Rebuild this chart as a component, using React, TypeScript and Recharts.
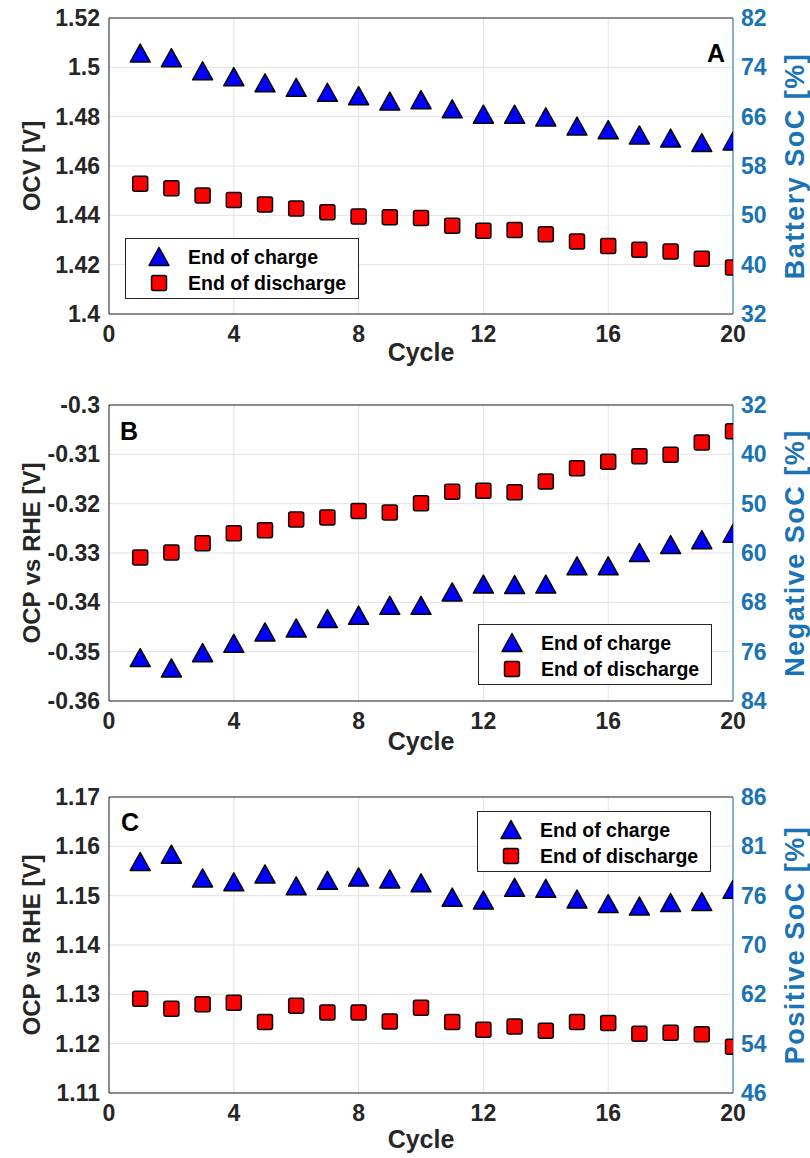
import React from 'react';
import {
  ScatterChart,
  Scatter,
  XAxis,
  YAxis,
  CartesianGrid,
  ReferenceLine,
  Legend
} from 'recharts';

// cycle numbers shared by all three panels
const cycles = [1, 2, 3, 4, 5, 6, 7, 8, 9, 10, 11, 12, 13, 14, 15, 16, 17, 18, 19, 20];
const cycleTicks = [0, 4, 8, 12, 16, 20];

// A: battery open-circuit voltage
const ocvCharge = [1.5056, 1.5037, 1.4984, 1.496, 1.4935, 1.4917, 1.4897, 1.4883, 1.4861, 1.4867,
  1.483, 1.4808, 1.4808, 1.4797, 1.476, 1.4745, 1.4724, 1.4711, 1.4693, 1.4699];
const ocvDischarge = [1.4528, 1.451, 1.448, 1.4462, 1.4444, 1.4428, 1.4412, 1.4395, 1.4392, 1.4389,
  1.4358, 1.4337, 1.4341, 1.4323, 1.4294, 1.4276, 1.426, 1.4253, 1.4224, 1.4189];
const ocvTicks = [1.4, 1.42, 1.44, 1.46, 1.48, 1.5, 1.52];
const batterySocLabels = ['32', '40', '50', '58', '66', '74', '82'];

// B: negative electrode potential
const negCharge = [-0.3513, -0.3534, -0.3503, -0.3484, -0.3461, -0.3453, -0.3434, -0.3427, -0.3407, -0.3407,
  -0.338, -0.3364, -0.3365, -0.3364, -0.3327, -0.3327, -0.33, -0.3284, -0.3274, -0.3261];
const negDischarge = [-0.3309, -0.3299, -0.328, -0.326, -0.3254, -0.3232, -0.3228, -0.3215, -0.3218, -0.3199,
  -0.3176, -0.3174, -0.3177, -0.3155, -0.3128, -0.3115, -0.3104, -0.3101, -0.3076, -0.3053];
const negTicks = [-0.36, -0.35, -0.34, -0.33, -0.32, -0.31, -0.3];
const negativeSocLabels = ['84', '76', '68', '60', '50', '40', '32'];

// C: positive electrode potential
const posCharge = [1.1568, 1.1583, 1.1535, 1.1527, 1.1543, 1.1519, 1.153, 1.1537, 1.1533, 1.1525,
  1.1496, 1.149, 1.1516, 1.1514, 1.1492, 1.1483, 1.1478, 1.1485, 1.1487, 1.1512];
const posDischarge = [1.1291, 1.1271, 1.128, 1.1283, 1.1244, 1.1277, 1.1263, 1.1263, 1.1245, 1.1273,
  1.1244, 1.1228, 1.1235, 1.1226, 1.1244, 1.1242, 1.122, 1.1222, 1.1219, 1.1194];
const posTicks = [1.11, 1.12, 1.13, 1.14, 1.15, 1.16, 1.17];
const positiveSocLabels = ['46', '54', '62', '70', '76', '81', '86'];

const FONT = '"Liberation Sans", Arial, sans-serif';
const INK = '#262626';
const SOC_BLUE = '#1a73b5';
const GRID = '#e2e2e2';

const toRows = (values: number[]) => cycles.map((c, i) => ({ cycle: c, v: values[i] }));

const Triangle = (props: any) => {
  const { cx, cy } = props;
  return (
    <polygon
      points={`${cx},${cy - 9.5} ${cx + 10},${cy + 8.5} ${cx - 10},${cy + 8.5}`}
      fill="#0000ff"
      stroke="#000"
      strokeWidth={1.5}
      strokeLinejoin="round"
    />
  );
};

const Square = (props: any) => {
  const { cx, cy } = props;
  return (
    <rect x={cx - 7.5} y={cy - 7.5} width={15} height={15} rx={2}
      fill="#ff0000" stroke="#000" strokeWidth={1.5} />
  );
};

const LegendBox = () => (
  <div style={{
    width: 234, height: 61, boxSizing: 'border-box', border: `1px solid ${INK}`,
    background: '#fff', position: 'relative', fontFamily: FONT, fontWeight: 'bold',
    fontSize: 19.5, color: '#000'
  }}>
    <svg width={60} height={61} style={{ position: 'absolute', left: 0, top: 0 }}>
      <Triangle cx={33} cy={18} />
      <Square cx={33} cy={44} />
    </svg>
    <div style={{ position: 'absolute', left: 62, top: 7, lineHeight: '22px' }}>End of charge</div>
    <div style={{ position: 'absolute', left: 62, top: 33, lineHeight: '22px' }}>End of discharge</div>
  </div>
);

interface PanelProps {
  top: number;
  charge: number[];
  discharge: number[];
  ticks: number[];
  rightLabels: string[];
  leftTitle: string;
  rightTitle: string;
  letter: string;
  letterX: number;
  letterY: number;
  legendX: number;
  legendY: number;
  cycleDy: number;
}

const Panel: React.FC<PanelProps> = ({
  top, charge, discharge, ticks, rightLabels, leftTitle, rightTitle,
  letter, letterX, letterY, legendX, legendY, cycleDy
}) => {
  const domain: [number, number] = [ticks[0], ticks[ticks.length - 1]];
  const tickStyle = { fill: INK, fontSize: 23, fontWeight: 'bold', fontFamily: FONT };

  return (
    <div style={{ position: 'absolute', left: 0, top }}>
      <ScatterChart width={810} height={390} margin={{ top: 18, right: 0, bottom: 0, left: 0 }}>
        <CartesianGrid stroke={GRID} yAxisId="left" />
        <XAxis
          type="number"
          dataKey="cycle"
          domain={[0, 20]}
          ticks={cycleTicks}
          allowDataOverflow
          height={76}
          tickLine={false}
          tickMargin={6}
          tick={tickStyle}
          axisLine={{ stroke: INK }}
          label={(p: any) => (
            <text x={p.viewBox.x + p.viewBox.width / 2} y={p.viewBox.y + cycleDy}
              textAnchor="middle" fontFamily={FONT} fontWeight="bold" fontSize={25} fill={INK}>
              Cycle
            </text>
          )}
        />
        <YAxis
          yAxisId="left"
          type="number"
          dataKey="v"
          domain={domain}
          ticks={ticks}
          allowDataOverflow
          width={109}
          tickLine={false}
          tickMargin={3}
          tick={tickStyle}
          axisLine={{ stroke: INK }}
          label={(p: any) => {
            const x = 31;
            const y = p.viewBox.y + p.viewBox.height / 2;
            return (
              <text x={x} y={y} transform={`rotate(-90 ${x} ${y})`} textAnchor="middle"
                dominantBaseline="central" fontFamily={FONT} fontWeight="bold" fontSize={24} fill={INK}>
                {leftTitle}
              </text>
            );
          }}
        />
        <YAxis
          yAxisId="right"
          orientation="right"
          type="number"
          domain={domain}
          ticks={ticks}
          allowDataOverflow
          width={77}
          tickLine={false}
          tickMargin={2}
          tick={{ ...tickStyle, fill: SOC_BLUE }}
          tickFormatter={(v: number) => rightLabels[ticks.findIndex((t) => Math.abs(t - v) < 1e-9)]}
          axisLine={{ stroke: SOC_BLUE }}
          label={(p: any) => {
            const x = 795;
            const y = p.viewBox.y + p.viewBox.height / 2;
            return (
              <text x={x} y={y} transform={`rotate(-90 ${x} ${y})`} textAnchor="middle"
                dominantBaseline="central" fontFamily={FONT} fontWeight="bold" fontSize={27}
                letterSpacing={1.5} fill={SOC_BLUE}>
                {rightTitle}
              </text>
            );
          }}
        />
        <ReferenceLine
          yAxisId="left"
          y={domain[1]}
          stroke={INK}
          label={() => (
            <text x={letterX} y={letterY} textAnchor="middle" dominantBaseline="central"
              fontFamily={FONT} fontWeight="bold" fontSize={25} fill="#000">
              {letter}
            </text>
          )}
        />
        <Scatter yAxisId="left" name="End of charge" data={toRows(charge)} shape={Triangle} isAnimationActive={false} />
        <Scatter yAxisId="left" name="End of discharge" data={toRows(discharge)} shape={Square} isAnimationActive={false} />
        <Legend
          layout="vertical"
          align="center"
          verticalAlign="middle"
          wrapperStyle={{ left: legendX, top: legendY, width: 234, height: 61 }}
          content={() => <LegendBox />}
        />
      </ScatterChart>
    </div>
  );
};

const App: React.FC = () => (
  <div style={{
    position: 'absolute', left: 0, top: 0, width: 810, height: 1158,
    background: '#fff', overflow: 'hidden'
  }}>
    <Panel top={0} charge={ocvCharge} discharge={ocvDischarge} ticks={ocvTicks}
      rightLabels={batterySocLabels} leftTitle="OCV [V]" rightTitle="Battery SoC [%]"
      letter="A" letterX={716} letterY={53} legendX={125} legendY={238} cycleDy={47} />
    <Panel top={387} charge={negCharge} discharge={negDischarge} ticks={negTicks}
      rightLabels={negativeSocLabels} leftTitle="OCP vs RHE [V]" rightTitle="Negative SoC [%]"
      letter="B" letterX={129} letterY={44} legendX={478} legendY={237} cycleDy={49} />
    <Panel top={779} charge={posCharge} discharge={posDischarge} ticks={posTicks}
      rightLabels={positiveSocLabels} leftTitle="OCP vs RHE [V]" rightTitle="Positive SoC [%]"
      letter="C" letterX={130} letterY={43} legendX={477} legendY={32} cycleDy={55} />
  </div>
);

export default App;
